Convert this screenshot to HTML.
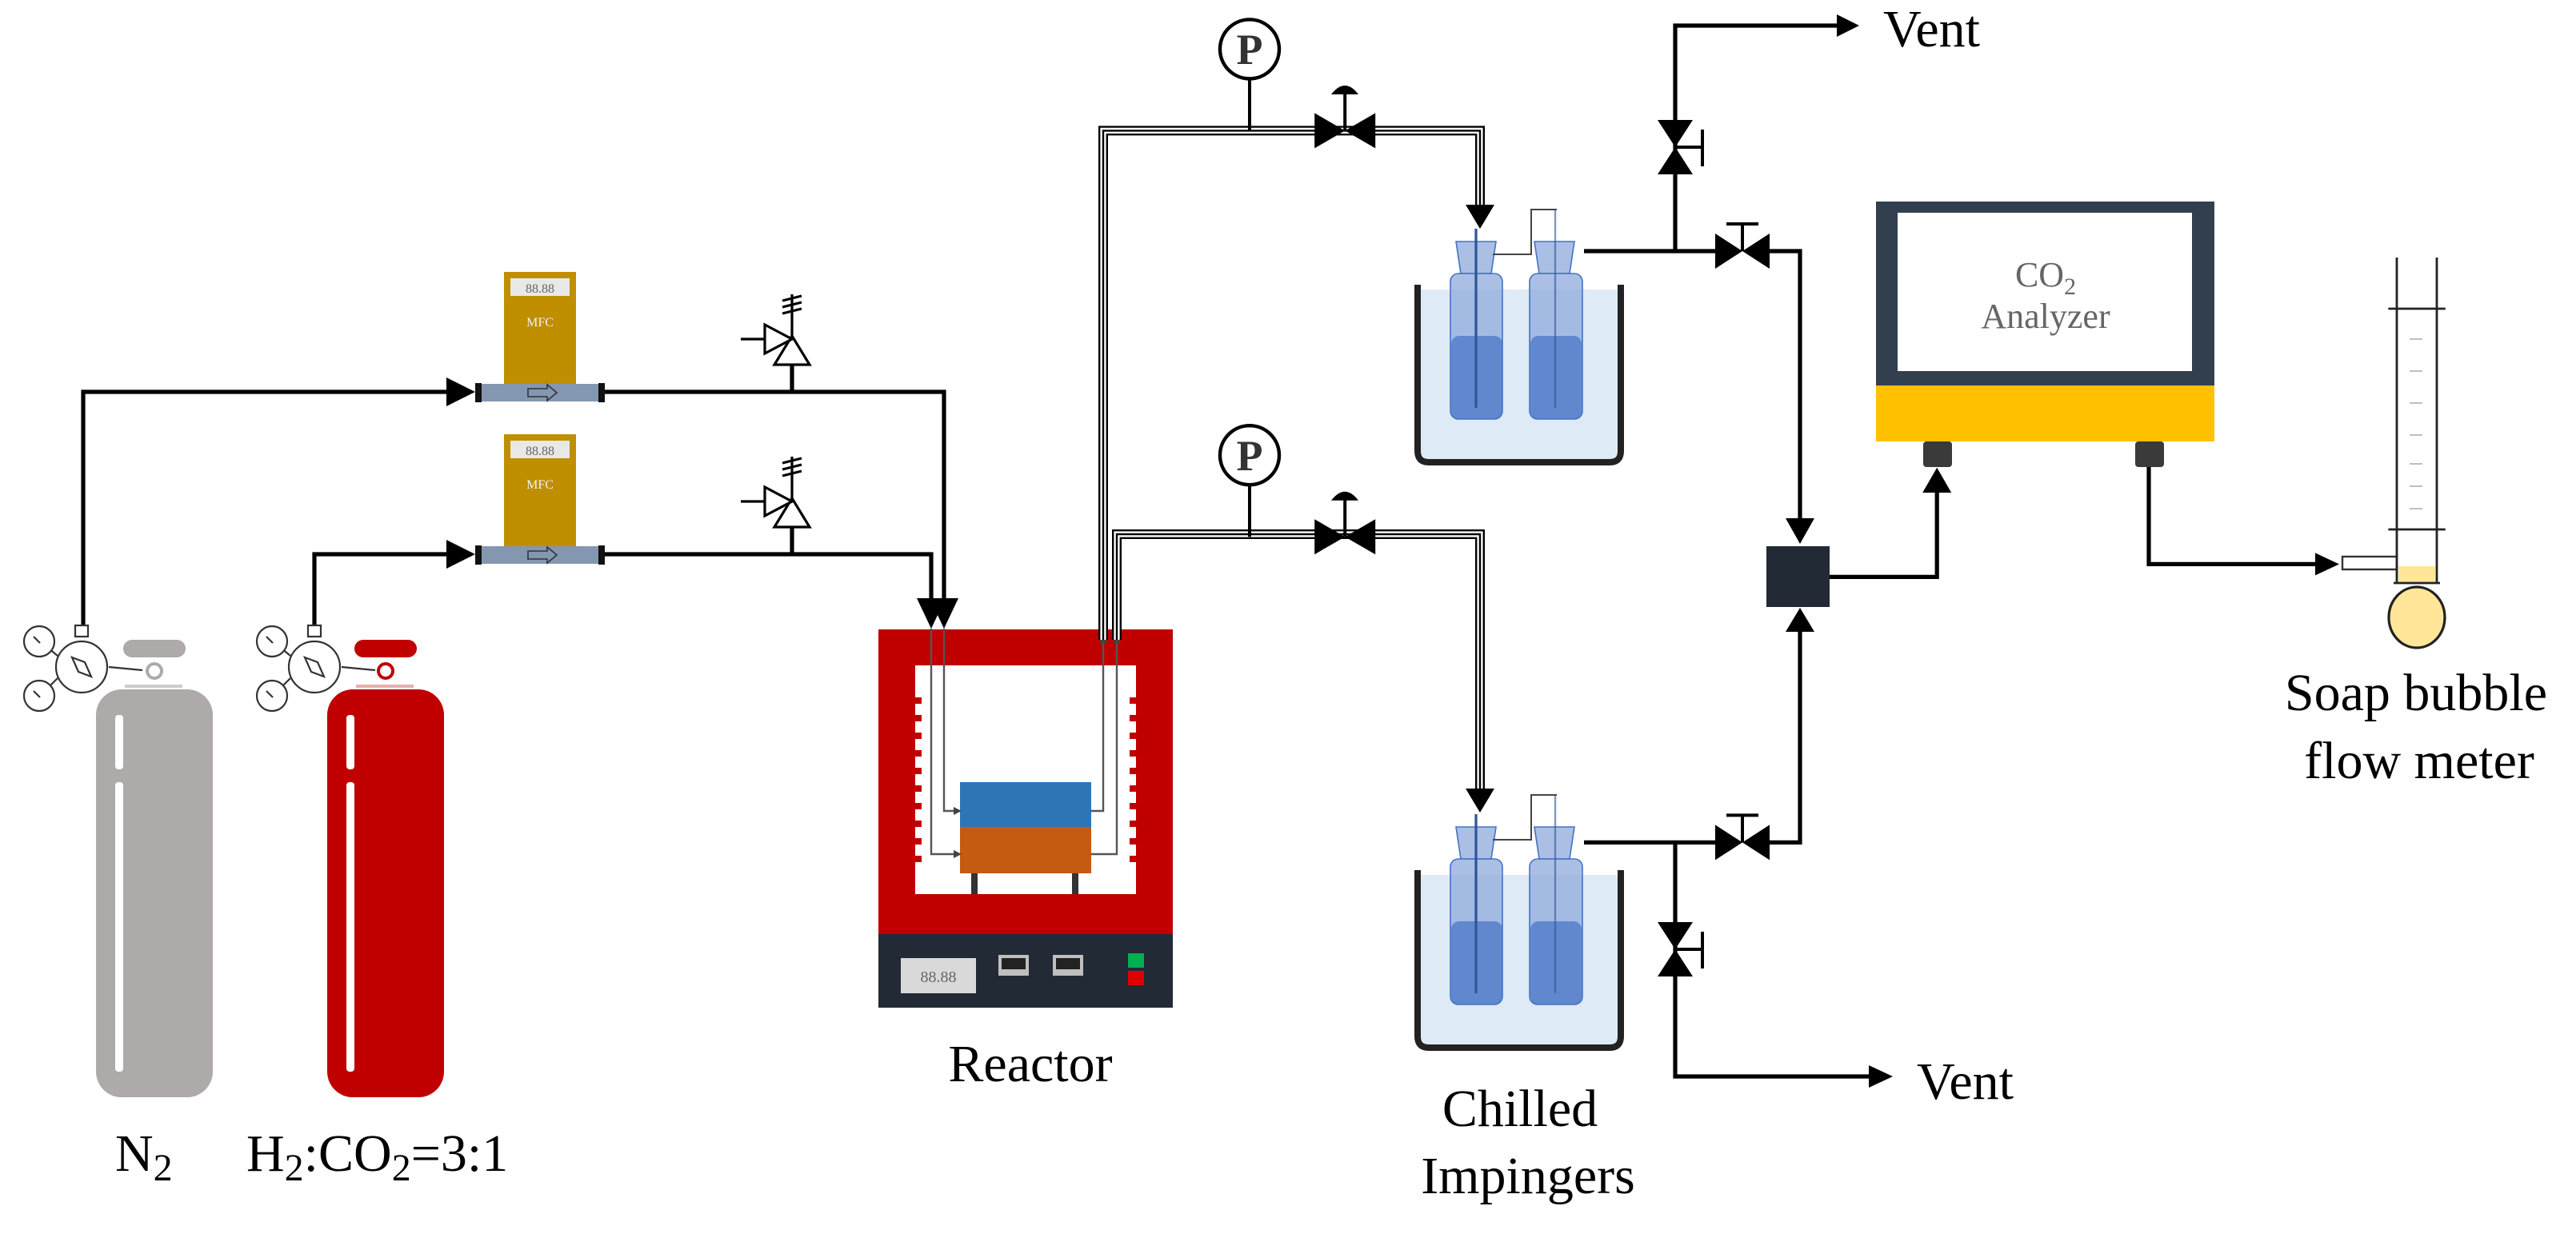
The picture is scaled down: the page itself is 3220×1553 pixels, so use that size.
<!DOCTYPE html>
<html><head><meta charset="utf-8"><style>
html,body{margin:0;padding:0;background:#fff}
svg{display:block}
svg text{font-family:"Liberation Serif","Times New Roman",serif}
</style></head><body>
<svg width="3220" height="1553" viewBox="0 0 1610 776.5" xmlns="http://www.w3.org/2000/svg" font-family="Liberation Serif, serif">
<rect width="1610" height="776.5" fill="#fff"/>

<g fill="none" stroke="#000" stroke-width="2.6">
<path d="M52,391 V245 H280"/>
<path d="M196.5,391 V346.5 H280"/>
<path d="M377,245 H590 V376"/>
<path d="M377,346.5 H582 V376"/>
<path d="M495,245 V228"/>
<path d="M495,346.5 V330"/>
</g>
<path d="M279,236 L297,245 L279,254z"/>
<path d="M279,337.5 L297,346.5 L279,355.5z"/>
<path d="M573,374 L582,393 L591,374z"/>
<path d="M581,374 L590,393 L599,374z"/>

<g fill="#fff" stroke="#000" stroke-width="1.6">
<g id="rv">
<path d="M484,228 L506,228 L495,210 z"/>
<path d="M478,203 L478,221 L495,212 z"/>
<path d="M463,212 H478 M495,210 V184 M489,188 L501,185 M489,192 L501,189 M489,196 L501,193"/>
</g>
<use href="#rv" y="101.5"/>
</g>

<g id="mfc">
<rect x="315" y="170" width="45" height="70" fill="#bf8f00"/>
<rect x="319" y="174" width="37" height="11" fill="#e8e8e8"/>
<text x="337.5" y="183" font-size="8" text-anchor="middle" fill="#666" font-family="Liberation Serif, serif">88.88</text>
<text x="337.5" y="204" font-size="8" text-anchor="middle" fill="#f2f2f2" font-family="Liberation Serif, serif">MFC</text>
<rect x="298" y="240" width="79" height="11" fill="#8497b0" rx="1"/>
<rect x="297" y="239.5" width="4" height="12" fill="#111"/>
<rect x="374" y="239.5" width="4" height="12" fill="#111"/>
<path d="M330,243 H342 V240.5 L348,245.5 L342,250.5 V248 H330z" fill="none" stroke="#333" stroke-width="0.8"/>
</g>
<use href="#mfc" y="101.5"/>

<g id="cyl">
<rect x="60" y="431" width="73" height="255" rx="16" fill="#aeaaaa"/>
<rect x="77" y="400" width="39" height="11" rx="5.5" fill="#aeaaaa"/>
<rect x="78" y="428" width="36" height="2" fill="#ccc"/>
<rect x="72" y="447" width="5" height="34" rx="2" fill="#fff"/>
<rect x="72" y="489" width="5" height="181" rx="2" fill="#fff"/>
<circle cx="96.5" cy="419.5" r="4.5" fill="#fff" stroke="#aeaaaa" stroke-width="2"/>
</g>
<g transform="translate(144.5,0)">
<rect x="60" y="431" width="73" height="255" rx="16" fill="#c00000"/>
<rect x="77" y="400" width="39" height="11" rx="5.5" fill="#c00000"/>
<rect x="78" y="428" width="36" height="2" fill="#e6b0b0"/>
<rect x="72" y="447" width="5" height="34" rx="2" fill="#fff"/>
<rect x="72" y="489" width="5" height="181" rx="2" fill="#fff"/>
<circle cx="96.5" cy="419.5" r="4.5" fill="#fff" stroke="#c00000" stroke-width="2"/>
</g>
<g id="reg" fill="#fff" stroke="#333" stroke-width="1.1">
<rect x="47" y="391" width="8" height="7"/>
<line x1="36" y1="410" x2="30" y2="405"/><line x1="36" y1="424" x2="30" y2="430"/>
<line x1="68" y1="417" x2="89" y2="419"/>
<circle cx="51" cy="417" r="16"/>
<path d="M45,411 L53,414 L57,423 L49,420z"/>
<circle cx="24.5" cy="401" r="9.5"/>
<circle cx="24.5" cy="435" r="9.5"/>
<line x1="21" y1="398" x2="25" y2="402"/><line x1="21" y1="432" x2="25" y2="436"/>
</g>
<use href="#reg" x="145.5"/>
<text x="72" y="732" font-size="33" font-family="Liberation Serif, serif">N<tspan font-size="24" dy="6">2</tspan></text>
<text x="154" y="732" font-size="33" font-family="Liberation Serif, serif">H<tspan font-size="24" dy="6">2</tspan><tspan dy="-6">:CO</tspan><tspan font-size="24" dy="6">2</tspan><tspan dy="-6">=3:1</tspan></text>

<rect x="549" y="393.5" width="184" height="190.5" fill="#c00000"/>
<rect x="572" y="416" width="138" height="143" fill="#fff"/>
<g fill="#c00000">
<rect x="572" y="436" width="4" height="4"/><rect x="572" y="447" width="4" height="4"/><rect x="572" y="458" width="4" height="4"/><rect x="572" y="469" width="4" height="4"/><rect x="572" y="480" width="4" height="4"/><rect x="572" y="491" width="4" height="4"/><rect x="572" y="502" width="4" height="4"/><rect x="572" y="513" width="4" height="4"/><rect x="572" y="524" width="4" height="4"/><rect x="572" y="535" width="4" height="4"/>
<rect x="706" y="436" width="4" height="4"/><rect x="706" y="447" width="4" height="4"/><rect x="706" y="458" width="4" height="4"/><rect x="706" y="469" width="4" height="4"/><rect x="706" y="480" width="4" height="4"/><rect x="706" y="491" width="4" height="4"/><rect x="706" y="502" width="4" height="4"/><rect x="706" y="513" width="4" height="4"/><rect x="706" y="524" width="4" height="4"/><rect x="706" y="535" width="4" height="4"/>
</g>
<rect x="549" y="584" width="184" height="46" fill="#222a35"/>
<rect x="563" y="599" width="47" height="22" fill="#d9d9d9"/>
<text x="586.5" y="614" font-size="10" text-anchor="middle" fill="#666" font-family="Liberation Serif, serif">88.88</text>
<rect x="624" y="597" width="19" height="13" fill="#bfbfbf"/><rect x="658" y="597" width="19" height="13" fill="#bfbfbf"/>
<rect x="626" y="599" width="15" height="7" fill="#222"/><rect x="660" y="599" width="15" height="7" fill="#222"/>
<rect x="705" y="596" width="10" height="9" fill="#00b050"/><rect x="705" y="607" width="10" height="9" fill="#e00000"/>
<rect x="600" y="489" width="82" height="28" fill="#2e75b6"/>
<rect x="600" y="517" width="82" height="29" fill="#c55a11"/>
<rect x="607" y="546" width="4" height="13" fill="#333"/><rect x="670" y="546" width="4" height="13" fill="#333"/>
<g fill="none" stroke="#555" stroke-width="1.2">
<path d="M590,393 V507 H598"/><path d="M582,393 V534 H598"/>
<path d="M682,507 H689.5 V400"/><path d="M682,534 H698 V400"/>
</g>
<path d="M596,504.5 L601,507 L596,509.5z M596,531.5 L601,534 L596,536.5z M687,402 L689.5,397 L692,402z M695.5,402 L698,397 L700.5,402z" fill="#444"/>
<text x="644" y="676" font-size="33" text-anchor="middle" font-family="Liberation Serif, serif">Reactor</text>

<g fill="none">
<path d="M689.5,400 V81.7 H925 V130" stroke="#000" stroke-width="6"/>
<path d="M689.5,400 V81.7 H925 V130" stroke="#fff" stroke-width="3.6"/>
<path d="M689.5,400 V81.7 H925 V130" stroke="#000" stroke-width="1.2"/>
<path d="M698,400 V334 H925 V495" stroke="#000" stroke-width="6"/>
<path d="M698,400 V334 H925 V495" stroke="#fff" stroke-width="3.6"/>
<path d="M698,400 V334 H925 V495" stroke="#000" stroke-width="1.2"/>
</g>
<path d="M916,128 L925,143 L934,128z"/>
<path d="M916,493 L925,508 L934,493z"/>
<g id="pv">
<line x1="781" y1="50" x2="781" y2="81.7" stroke="#000" stroke-width="2"/>
<circle cx="781" cy="30.7" r="18.5" fill="#fff" stroke="#000" stroke-width="2.2"/>
<text x="781" y="40" font-size="27" font-family="Liberation Sans, sans-serif" font-weight="bold" text-anchor="middle" fill="#333">P</text>
<path d="M821.6,70.7 L840.6,81.7 L821.6,92.7z M859.6,70.7 L840.6,81.7 L859.6,92.7z"/>
<line x1="840.6" y1="81.7" x2="840.6" y2="58" stroke="#000" stroke-width="2"/>
<path d="M832,59 Q840.6,48 849,59z"/>
</g>
<use href="#pv" y="253.9"/>

<g id="imp">
<rect x="887" y="181" width="125" height="106" fill="#deebf7"/>
<path d="M886,178 V282 Q886,289 893,289 H1006 Q1013,289 1013,282 V178" fill="none" stroke="#222" stroke-width="4"/>
<g fill="#8faadc" fill-opacity="0.75" stroke="#4472c4" stroke-width="0.8">
<path d="M910,151 H935 L932,171 H913z"/>
<rect x="906.5" y="171" width="32.5" height="91" rx="5"/>
<path d="M959,151 H984 L981,171 H962z"/>
<rect x="956" y="171" width="33" height="91" rx="5"/>
</g>
<rect x="907" y="210" width="32" height="52" rx="5" fill="#4472c4" fill-opacity="0.7"/>
<rect x="956.5" y="210" width="32" height="52" rx="5" fill="#4472c4" fill-opacity="0.7"/>
<line x1="922.5" y1="143" x2="922.5" y2="255" stroke="#2f5597" stroke-width="1.6"/>
<line x1="972" y1="131" x2="972" y2="255" stroke="#2f5597" stroke-width="1.2" stroke-opacity="0.6"/>
<path d="M933,159 H957 V131 H973" fill="none" stroke="#444" stroke-width="1"/>
</g>
<use href="#imp" y="366"/>
<text x="950" y="704" font-size="33" text-anchor="middle" font-family="Liberation Serif, serif">Chilled</text>
<text x="955" y="746" font-size="33" text-anchor="middle" font-family="Liberation Serif, serif">Impingers</text>

<g fill="none" stroke="#000" stroke-width="2.6">
<path d="M990,157 H1072"/>
<path d="M1106,157 H1125 V325"/>
<path d="M1047,157 V16 H1150"/>
<path d="M990,526.7 H1072"/>
<path d="M1106,526.7 H1125 V392"/>
<path d="M1047,526.7 V673 H1170"/>
<path d="M1143.5,360.7 H1210.6 V306"/>
<path d="M1343,292 V352.7 H1448"/>
</g>
<path d="M1148,9 L1162,16 L1148,23z"/>
<path d="M1168,666 L1183,673 L1168,680z"/>
<path d="M1116,324 L1125,340 L1134,324z"/>
<path d="M1116,395 L1125,380 L1134,395z"/>
<path d="M1201.6,308 L1210.6,292.4 L1219.6,308z"/>
<path d="M1447,345.7 L1462,352.7 L1447,359.7z"/>
<g id="hv">
<path d="M1072,146 L1089,157 L1072,168z M1106,146 L1089,157 L1106,168z"/>
<path d="M1089,157 V140 M1079,140 H1099" stroke="#000" stroke-width="2" fill="none"/>
</g>
<use href="#hv" y="369.7"/>
<g id="vv">
<path d="M1036,75 L1047,92 L1058,75z M1036,109 L1047,92 L1058,109z"/>
<path d="M1047,92 H1064 M1064,81 V104" stroke="#000" stroke-width="2" fill="none"/>
</g>
<use href="#vv" y="501.5"/>
<rect x="1104" y="341.5" width="39.5" height="38" fill="#222a35"/>

<rect x="1172.5" y="126" width="211.5" height="150" fill="#323f4f"/>
<rect x="1186" y="133" width="184" height="99" fill="#fff"/>
<rect x="1172.5" y="241" width="211.5" height="35" fill="#ffc000"/>
<rect x="1202" y="276" width="18" height="16" rx="2" fill="#3a3a3a"/>
<rect x="1334.5" y="276" width="18" height="16" rx="2" fill="#3a3a3a"/>
<text x="1278.5" y="179" font-size="22" text-anchor="middle" fill="#666" font-family="Liberation Serif, serif">CO<tspan font-size="15" dy="5">2</tspan></text>
<text x="1278.5" y="205" font-size="22" text-anchor="middle" fill="#666" font-family="Liberation Serif, serif">Analyzer</text>

<rect x="1464" y="348" width="34" height="8" fill="#fff" stroke="#333" stroke-width="1.2"/>
<ellipse cx="1510.5" cy="386" rx="17.5" ry="19" fill="#ffe699" stroke="#222" stroke-width="1.6"/>
<rect x="1499" y="354" width="23" height="10" fill="#ffe699"/>
<g stroke="#222" stroke-width="1.4" fill="none">
<path d="M1498,161 V364 M1523,161 V364 M1492.7,193 H1528.4 M1492.7,331 H1528.4 M1496,364.5 H1525"/>
</g>
<g stroke="#aaa" stroke-width="0.8"><path d="M1506,212 H1514 M1506,232 H1514 M1506,252 H1514 M1506,272 H1514 M1506,290 H1514 M1506,304 H1514 M1506,318 H1514"/></g>
<text x="1510" y="444" font-size="33" text-anchor="middle" font-family="Liberation Serif, serif">Soap bubble</text>
<text x="1512" y="486.6" font-size="33" text-anchor="middle" font-family="Liberation Serif, serif">flow meter</text>
<text x="1177" y="29" font-size="33" font-family="Liberation Serif, serif">Vent</text>
<text x="1198" y="687" font-size="33" font-family="Liberation Serif, serif">Vent</text>
</svg>
</body></html>
